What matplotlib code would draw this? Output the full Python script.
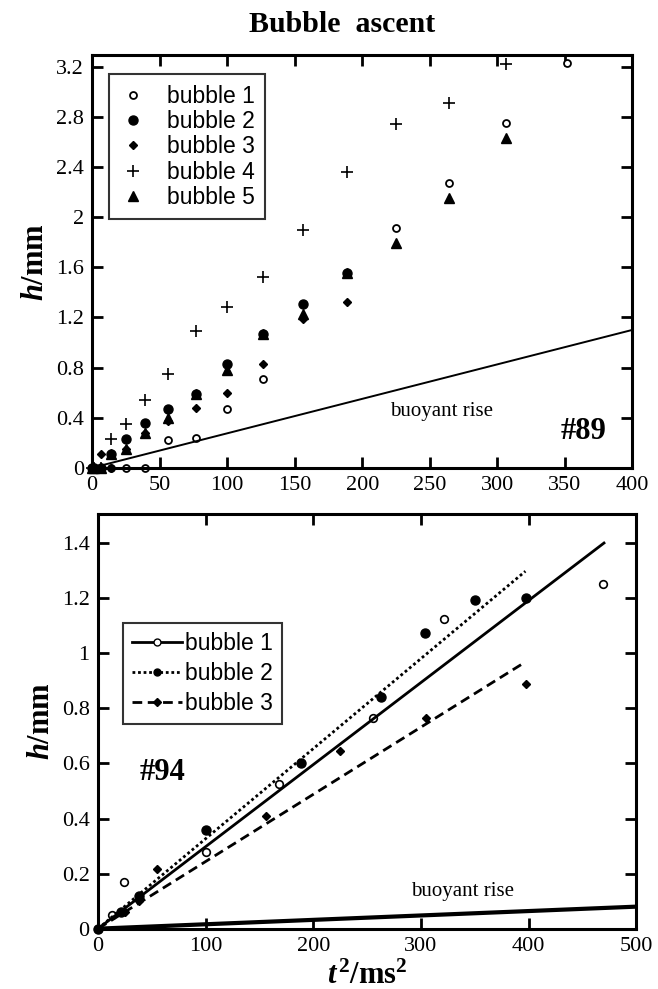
import numpy as np
from matplotlib import pyplot as plt

plt.rcParams['mathtext.fontset'] = 'custom'
plt.rcParams['mathtext.rm'] = 'Liberation Serif'
plt.rcParams['mathtext.it'] = 'Liberation Serif:italic'
plt.rcParams['mathtext.bf'] = 'Liberation Serif:bold'
plt.rcParams['mathtext.bfit'] = 'Liberation Serif:italic:bold'

# ---- #89 : bubble heights, t^2 in ms^2, h in mm
t2_89 = [0, 1.56, 6.25, 14.06, 25, 39.06, 56.25, 76.56, 100, 126.56,
         156.25, 189.06, 225, 264.06, 306.25, 351.56]

b1_t2 = [0, 1.56, 6.25, 14.06, 25, 39.06, 56.25, 76.56, 100, 126.56, 225, 264.06, 306.25, 351.56]
b1_h = [0, 0, 0, 0, 0, 0, 0.22, 0.24, 0.47, 0.71, 1.91, 2.27, 2.75, 3.23]
b2_h = [0, 0, 0, 0.11, 0.23, 0.36, 0.47, 0.59, 0.83, 1.07, 1.31, 1.55]
b3_h = [0, 0, 0.11, 0, 0.15, 0.28, 0.37, 0.48, 0.60, 0.83, 1.19, 1.32]
b4_h = [0, 0, 0, 0.23, 0.35, 0.54, 0.75, 1.09, 1.28, 1.52, 1.90, 2.36, 2.74, 2.91, 3.22]
b5_h = [0, 0, 0, 0.11, 0.15, 0.28, 0.40, 0.59, 0.78, 1.07, 1.23, 1.55, 1.79, 2.15, 2.63]
buoy_89 = 0.00275   # buoyant rise slope, mm per ms^2

# ---- #94
c1_t2 = [0, 13, 24, 100, 168, 255, 321, 469]
c1_h = [0, 0.05, 0.17, 0.28, 0.525, 0.765, 1.125, 1.25]
c2_t2 = [0, 21, 38, 100, 189, 263, 304, 350, 398]
c2_h = [0, 0.06, 0.12, 0.36, 0.60, 0.84, 1.075, 1.195, 1.20]
c3_t2 = [0, 25, 38, 55, 156, 225, 305, 398]
c3_h = [0, 0.06, 0.10, 0.215, 0.41, 0.645, 0.765, 0.89]
fit_slope = [0.00298, 0.00327, 0.00244]
fit_end = [470, 397, 397]
buoy_94 = 0.00016

serif = 'Liberation Serif'
sans = 'Liberation Sans'

fig = plt.figure(figsize=(6.58, 9.89), dpi=100)
ax1 = fig.add_axes([0.140, 0.527, 0.821, 0.417])
ax2 = fig.add_axes([0.149, 0.061, 0.818, 0.419])

fig.text(0.52, 0.975, 'Bubble  ascent', ha='center', va='center',
         family=serif, weight='bold', fontsize=21.5)

ms = dict(color='black', linestyle='none', clip_on=False)
ax1.plot(b1_t2, b1_h, marker='o', mfc='white', mec='black', mew=1.3, ms=5, label='bubble 1', **ms)
ax1.plot(t2_89[:len(b2_h)], b2_h, marker='o', ms=6.5, label='bubble 2', **ms)
ax1.plot(t2_89[:len(b3_h)], b3_h, marker='D', ms=4.5, label='bubble 3', **ms)
ax1.plot(t2_89[:len(b4_h)], b4_h, marker='+', ms=9, mew=1.2, label='bubble 4', **ms)
ax1.plot(t2_89[:len(b5_h)], b5_h, marker='^', ms=7, label='bubble 5', **ms)
xb = np.array([0, 400])
ax1.plot(xb, buoy_89 * xb, color='black', lw=1.4)

ax1.set_xlim(0, 400)
ax1.set_ylim(0, 3.29)
ax1.set_xticks(range(0, 401, 50))
ax1.set_xticklabels([str(v) for v in range(0, 401, 50)])
yt1 = [0, 0.4, 0.8, 1.2, 1.6, 2, 2.4, 2.8, 3.2]
ax1.set_yticks(yt1)
ax1.set_yticklabels(['0', '0.4', '0.8', '1.2', '1.6', '2', '2.4', '2.8', '3.2'])
ax1.text(259, 0.45, 'buoyant rise', ha='center', va='center', family=serif, fontsize=15)
ax1.text(381, 0.29, '#89', ha='right', va='center', family=serif, weight='bold', fontsize=22)

leg1 = ax1.legend(loc='upper left', bbox_to_anchor=(0.031, 0.954), borderaxespad=0,
                  prop={'family': sans, 'size': 16.5}, labelspacing=0.1, handlelength=1.2,
                  handletextpad=0.9, borderpad=0.45, fancybox=False, numpoints=1)
leg1.get_frame().set_edgecolor('black')
leg1.get_frame().set_linewidth(1.5)

# bottom panel
ax2.plot(c1_t2, c1_h, marker='o', mfc='white', mec='black', mew=1.2, ms=5.5, **ms)
ax2.plot(c2_t2, c2_h, marker='o', ms=6.5, **ms)
ax2.plot(c3_t2, c3_h, marker='D', ms=4.5, **ms)
styles = ['-', (0, (1, 1)), (0, (3.5, 2))]
marks = [dict(marker='o', mfc='white', ms=5), dict(marker='o', ms=5), dict(marker='D', ms=4)]
for i in range(3):
    xf = np.array([0, fit_end[i]])
    ax2.plot(xf, fit_slope[i] * xf, color='black', lw=2, linestyle=styles[i])
    # proxy for legend
    ax2.plot([], [], color='black', lw=2, linestyle=styles[i], mec='black',
             label='bubble %d' % (i + 1), **marks[i])
xb2 = np.array([0, 500])
ax2.plot(xb2, buoy_94 * xb2, color='black', lw=3)

ax2.set_xlim(0, 500)
ax2.set_ylim(0, 1.505)
ax2.set_xticks(range(0, 501, 100))
ax2.set_xticklabels([str(v) for v in range(0, 501, 100)])
yt2 = [0, 0.2, 0.4, 0.6, 0.8, 1, 1.2, 1.4]
ax2.set_yticks(yt2)
ax2.set_yticklabels(['0', '0.2', '0.4', '0.6', '0.8', '1', '1.2', '1.4'])
ax2.text(339, 0.134, 'buoyant rise', ha='center', va='center', family=serif, fontsize=15)
ax2.text(39, 0.566, '#94', ha='left', va='center', family=serif, weight='bold', fontsize=22)

leg2 = ax2.legend(loc='upper left', bbox_to_anchor=(0.046, 0.737), borderaxespad=0,
                  prop={'family': sans, 'size': 16.5}, labelspacing=0.3, handlelength=2.2,
                  handletextpad=0.1, borderpad=0.4, fancybox=False, numpoints=1)
leg2.get_frame().set_edgecolor('black')
leg2.get_frame().set_linewidth(1.5)

for ax in (ax1, ax2):
    for s in ax.spines.values():
        s.set_linewidth(2.2)
    ax.tick_params(direction='in', length=8, width=2, top=True, right=True,
                   labelsize=16, pad=6)
    for lab in ax.get_xticklabels() + ax.get_yticklabels():
        lab.set_family(serif)

ax1.set_ylabel(r'$\mathbfit{h}$/mm', family=serif, weight='bold', fontsize=22)
ax2.set_ylabel(r'$\mathbfit{h}$/mm', family=serif, weight='bold', fontsize=22)
ax2.set_xlabel(r'$\mathbfit{t}^{\,\mathbf{2}}$/ms$^{\mathbf{2}}$', family=serif,
               weight='bold', fontsize=22, labelpad=4)

plt.savefig('out.png', dpi=100)
